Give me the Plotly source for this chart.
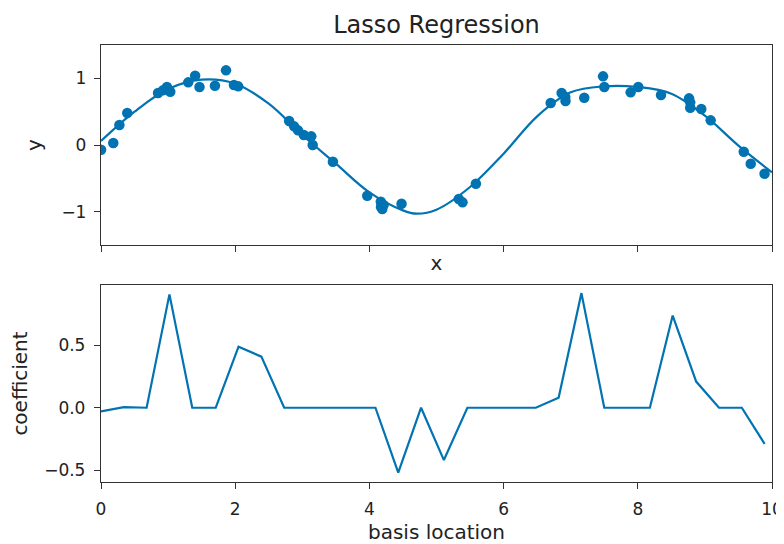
import plotly.graph_objects as go
from plotly.subplots import make_subplots

# ---- data ----
x_points = [0.0011, 0.183, 0.274, 0.391, 0.850, 0.923, 0.983, 1.032, 1.300, 1.403,
            1.468, 1.698, 1.863, 1.981, 2.045, 2.804, 2.878, 2.936, 3.023, 3.134,
            3.155, 3.456, 3.968, 4.170, 4.173, 4.192, 4.211, 4.479, 5.332, 5.388,
            5.587, 6.702, 6.865, 6.919, 6.923, 7.202, 7.482, 7.501, 7.893, 8.007,
            8.346, 8.764, 8.781, 8.781, 8.946, 9.086, 9.579, 9.683, 9.889]
y_points = [-0.07, 0.03, 0.30, 0.48, 0.78, 0.82, 0.87, 0.80, 0.94, 1.04,
            0.87, 0.89, 1.12, 0.90, 0.88, 0.36, 0.28, 0.22, 0.15, 0.13,
            0.00, -0.25, -0.76, -0.85, -0.93, -0.96, -0.90, -0.88, -0.81, -0.86,
            -0.58, 0.63, 0.78, 0.72, 0.66, 0.71, 1.03, 0.87, 0.79, 0.87,
            0.75, 0.70, 0.64, 0.56, 0.54, 0.37, -0.10, -0.28, -0.43]

x_fit = [0.0, 0.5, 1.0, 1.5, 2.0, 2.5, 3.0, 3.5, 4.0, 4.5, 4.7, 5.0,
         5.5, 6.0, 6.5, 7.0, 7.5, 8.0, 8.5, 9.0, 9.5, 10.0]
y_fit = [0.06, 0.50, 0.84, 0.98, 0.92, 0.62, 0.15, -0.28, -0.71, -0.98, -1.03, -0.97,
         -0.63, -0.13, 0.43, 0.79, 0.88, 0.87, 0.77, 0.44, -0.01, -0.41]

basis_location = [0.00, 0.34, 0.68, 1.02, 1.36, 1.71, 2.05, 2.39, 2.73, 3.07,
                  3.41, 3.75, 4.09, 4.43, 4.77, 5.11, 5.46, 5.80, 6.14, 6.48,
                  6.82, 7.16, 7.50, 7.84, 8.18, 8.52, 8.87, 9.21, 9.55, 9.89]
coefficient = [-0.03, 0.005, 0.0, 0.91, 0.0, 0.0, 0.49, 0.41, 0.0, 0.0,
               0.0, 0.0, 0.0, -0.52, 0.0, -0.42, 0.0, 0.0, 0.0, 0.0,
               0.08, 0.92, 0.0, 0.0, 0.0, 0.74, 0.21, 0.0, 0.0, -0.29]

x_ticks = [0, 2, 4, 6, 8, 10]
top_y_ticks = [-1, 0, 1]
top_y_labels = ["\u22121", "0", "1"]
bot_y_ticks = [-0.5, 0.0, 0.5]
bot_y_labels = ["\u22120.5", "0.0", "0.5"]

blue = "#0173B2"
ink = "#222222"
font = "DejaVu Sans"

fig = make_subplots(rows=2, cols=1, shared_xaxes=True)

fig.add_trace(go.Scatter(x=x_points, y=y_points, mode="markers",
                         marker=dict(color=blue, size=10.5, line=dict(width=0)),
                         showlegend=False), row=1, col=1)
fig.add_trace(go.Scatter(x=x_fit, y=y_fit, mode="lines",
                         line=dict(color=blue, width=2.2, shape="spline", smoothing=1.0),
                         showlegend=False), row=1, col=1)
fig.add_trace(go.Scatter(x=basis_location, y=coefficient, mode="lines",
                         line=dict(color=blue, width=2.2),
                         showlegend=False), row=2, col=1)

axis_common = dict(showline=True, mirror=True, linecolor="#333333", linewidth=1.3,
                   ticks="outside", ticklen=6, tickwidth=1.2, tickcolor="#333333",
                   showgrid=False, zeroline=False, automargin=False,
                   tickfont=dict(family=font, size=17, color=ink))

fig.update_xaxes(**axis_common)
fig.update_yaxes(**axis_common)

lab = dict(family=font, size=20, color=ink)

# the page body has an 8px margin, so the figure is sized and offset to match
fig.update_layout(
    xaxis=dict(domain=[0, 1], range=[0, 10], tickvals=x_ticks, showticklabels=False,
               title=dict(text="x", font=lab, standoff=4)),
    yaxis=dict(domain=[0.5423, 1.0], range=[-1.5, 1.5], tickvals=top_y_ticks,
               ticktext=top_y_labels, ticklabelstandoff=4,
               title=dict(text="y", font=lab, standoff=14)),
    xaxis2=dict(domain=[0, 1], range=[0, 10], tickvals=x_ticks, ticklabelstandoff=5,
                title=dict(text="basis location", font=lab, standoff=13)),
    yaxis2=dict(domain=[0.0, 0.4508], range=[-0.596, 0.985], tickvals=bot_y_ticks,
                ticktext=bot_y_labels, ticklabelstandoff=5,
                title=dict(text="coefficient", font=lab, standoff=16)),
    title=dict(text="Lasso Regression", x=0.5, xref="paper", y=1 - 17 / 536, yanchor="middle",
               font=dict(family=font, size=24, color=ink)),
    width=776, height=536, autosize=False,
    margin=dict(l=93, r=12, t=37, b=62),
    paper_bgcolor="white", plot_bgcolor="white",
    font=dict(family=font, color=ink),
)

fig.write_html("out.html")
